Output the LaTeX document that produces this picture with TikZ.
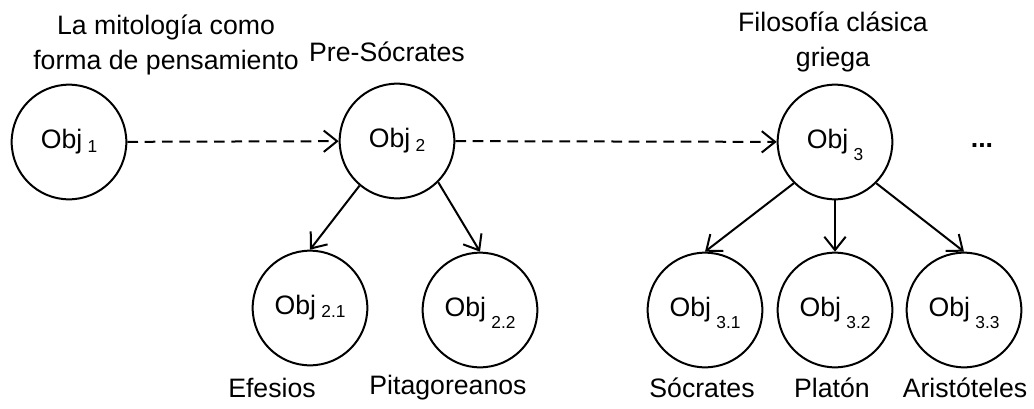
\documentclass[tikz,border=0pt]{standalone}
\usepackage{fontspec}
\setmainfont{Liberation Sans}
\usetikzlibrary{arrows.meta}
%
\newcommand{\objname}[2]{Obj\hspace{4pt}\raisebox{-#2}[0pt][0pt]{\fontsize{13}{15}\selectfont #1}}
%
\tikzset{
  obj/.style={draw, circle, minimum size=86pt, inner sep=0pt, font=\fontsize{20}{24}\selectfont},
  lab/.style={align=center, font=\fontsize{20}{26}\selectfont},
  link/.style={-{Straight Barb[length=10pt,width=16pt]}},
  flow/.style={link, dash pattern=on 8pt off 5pt},
}
\begin{document}
\begin{tikzpicture}[line width=1.5pt, x=0.75pt, y=-0.75pt]
\useasboundingbox (0,0) rectangle (1034,408);
%
\node[obj] (o1) at (69,142) {\objname{1}{3pt}};
\node[obj] (o2) at (397,141) {\objname{2}{3pt}};
\node[obj] (o3) at (835,142) {\objname{3}{9pt}};
%
\node[obj] (o21) at (310,308) {\objname{2.1}{2pt}};
\node[obj] (o22) at (480,310) {\objname{2.2}{9pt}};
\node[obj] (o31) at (705,310) {\objname{3.1}{9pt}};
\node[obj] (o32) at (835,310) {\objname{3.2}{9pt}};
\node[obj] (o33) at (964,310) {\objname{3.3}{9pt}};
%
\node[lab] (dots) at (982,146) {\textbf{...}};
%
\node[lab] (l1) at (166,45) {La mitología como\\forma de pensamiento};
\node[lab] (l2) at (387,52) {Pre-Sócrates};
\node[lab] (l3) at (833,42) {Filosofía clásica\\griega};
%
\node[lab] (l21) at (272,388) {Efesios};
\node[lab] (l22) at (448,388) {Pitagoreanos};
\node[lab] (l31) at (702,388) {Sócrates};
\node[lab] (l32) at (832,388) {Platón};
\node[lab] (l33) at (965,388) {Aristóteles};
%
\draw[flow] (o1) -- (o2);
\draw[flow] (o2) -- (o3);
%
\draw[link] (o2.230) -- (o21.north);
\draw[link] (o2.315) -- (o22.north);
\draw[link] (o3.225) -- (o31.north);
\draw[link] (o3.south) -- (o32.north);
\draw[link] (o3.315) -- (o33.north);
%
\end{tikzpicture}
\end{document}
